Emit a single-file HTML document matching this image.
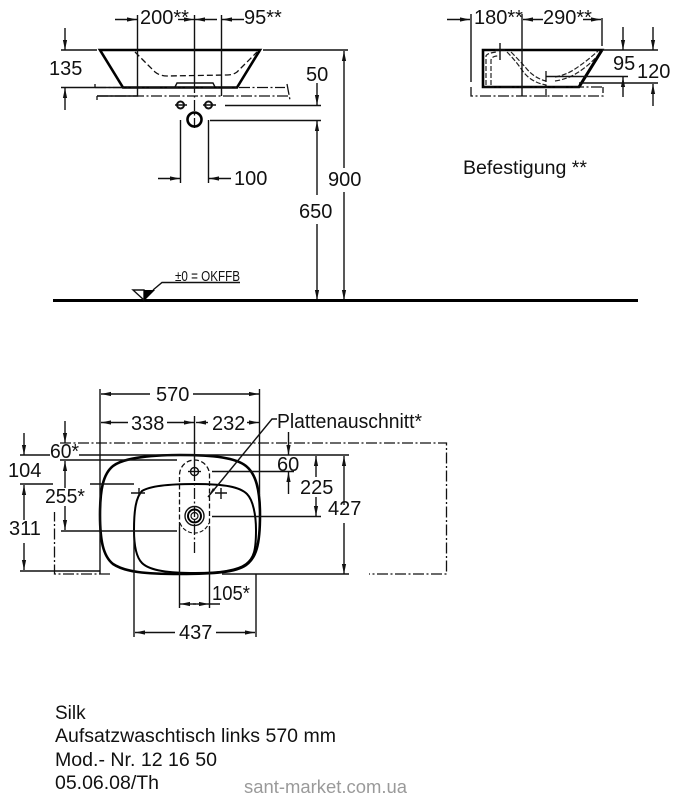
<!DOCTYPE html>
<html>
<head>
<meta charset="utf-8">
<style>
html,body{margin:0;padding:0;background:#fff}
svg{display:block;filter:blur(0.3px)}
text{font-family:"Liberation Sans",sans-serif;font-size:20px;fill:#111}
.s{font-size:19px}
.l{stroke:#111;stroke-width:1.4;fill:none}
.t{stroke:#000;stroke-width:2.6;fill:none}
.dd{stroke:#111;stroke-width:1.3;fill:none;stroke-dasharray:11 2.5 2 2.5}
.d{stroke:#111;stroke-width:1.3;fill:none;stroke-dasharray:6 3}
.a{stroke:#111;stroke-width:1.4;fill:none;marker-end:url(#ar)}
</style>
</head>
<body>
<svg width="678" height="800" viewBox="0 0 678 800" xmlns="http://www.w3.org/2000/svg">
<defs>
<marker id="ar" markerUnits="userSpaceOnUse" markerWidth="12" markerHeight="6" refX="10" refY="3" orient="auto">
<path d="M0,0.9 L10,3 L0,5.1 Z" fill="#111"/>
</marker>
</defs>

<!-- TOP LEFT VIEW -->
<path class="t" d="M100,50 H260 L237,87.5 H123 Z"/>
<path class="d" d="M135,52 L155,72 Q160,76 167,76 L227,75 Q233,75 237,72 L257,52"/>
<path class="l" d="M175,87 L177,83 H213 L215,87"/>
<path class="dd" d="M95,87.5 H285 M97,96 H290 M97,96 V100 M95,84 V88 M287,84 L290,100"/>
<path class="l" d="M61,50 H97 M263,50 H348 M61,87.5 H123"/>
<path class="l" d="M137.5,15 V96 H97 M221.5,15 V96 M194.5,15 V82"/>
<path class="dd" d="M194.5,82 V128"/>
<line class="a" x1="115" y1="19.5" x2="137" y2="19.5"/>
<line class="a" x1="178" y1="19.5" x2="194" y2="19.5"/>
<line class="a" x1="217" y1="19.5" x2="195" y2="19.5"/>
<line class="a" x1="244" y1="19.5" x2="222" y2="19.5"/>
<line class="a" x1="65" y1="28" x2="65" y2="50"/>
<line class="a" x1="65" y1="110" x2="65" y2="88"/>
<text x="140" y="24">200**</text>
<text x="244" y="24">95**</text>
<text x="49" y="75">135</text>
<text x="306" y="81">50</text>

<circle class="l" cx="180.5" cy="105" r="3.5" style="stroke-width:2"/>
<circle class="l" cx="208.5" cy="105" r="3.5" style="stroke-width:2"/>
<path class="l" d="M175,105 H187 M203,105 H216"/>
<circle class="t" cx="194.5" cy="119.5" r="7"/>
<path class="l" d="M225,105.5 H321 M210,120.5 H321 M180.5,120 V183 M208.5,120 V183"/>
<line class="a" x1="158" y1="178.5" x2="180" y2="178.5"/>
<line class="a" x1="231" y1="178.5" x2="209" y2="178.5"/>
<text x="234" y="185">100</text>
<line class="a" x1="317" y1="83" x2="317" y2="105"/>
<line class="a" x1="317" y1="195" x2="317" y2="121"/>
<line class="a" x1="317" y1="224" x2="317" y2="300"/>
<line class="a" x1="344" y1="168" x2="344" y2="51"/>
<line class="a" x1="344" y1="192" x2="344" y2="300"/>
<text x="328" y="186">900</text>
<text x="299" y="218">650</text>

<!-- FLOOR -->
<line x1="53" y1="300.5" x2="638" y2="300.5" stroke="#000" stroke-width="3"/>
<path d="M133,290 H144 V300 Z" fill="#fff" stroke="#111" stroke-width="1.4"/>
<path d="M144,290 H155 L144,301 Z" fill="#000"/>
<path class="l" d="M153,290 L162,282.5 H240"/>
<text x="175" y="281" textLength="65" lengthAdjust="spacingAndGlyphs" style="font-size:15px">±0 = OKFFB</text>

<!-- TOP RIGHT VIEW -->
<path class="t" d="M483,50 H602 L579,87 H483 Z"/>
<path d="M507,52 Q515,60 522,70 Q530,82 546,85 M555,81 Q568,79 577,73 Q590,65 601,52" fill="none" stroke="#222" stroke-width="1.2" stroke-dasharray="5 2"/>
<path d="M511,52 Q519,60 526,68 Q534,78 546,81 M555,77 Q566,75 575,69 Q587,61 598,51" fill="none" stroke="#222" stroke-width="1.2" stroke-dasharray="5 2"/>
<path d="M486,85 V56 Q487,53 497,52 M491,85 V60 Q492,56 498,56" fill="none" stroke="#222" stroke-width="1.2" stroke-dasharray="5 2"/>
<path d="M602,50 L579,87" fill="none" stroke="#000" stroke-width="3"/>
<path class="l" d="M471,14 V82 M522,14 V96 M602,18 V46 M602,50 H658 M579,83 H658 M546,76.5 H628 M500,43 V60 M495,50 H505"/>
<path class="dd" d="M471,87 V96 H603 V87 M546,71 V97 M483,87 H603"/>
<line class="a" x1="447" y1="19.5" x2="470" y2="19.5"/>
<line class="a" x1="543" y1="19.5" x2="523" y2="19.5"/>
<line class="a" x1="583" y1="19.5" x2="601" y2="19.5"/>
<text x="474" y="24">180**</text>
<text x="543" y="24">290**</text>
<line class="a" x1="623" y1="27" x2="623" y2="50"/>
<line class="a" x1="653" y1="27" x2="653" y2="50"/>
<line class="a" x1="623" y1="97" x2="623" y2="77"/>
<line class="a" x1="653" y1="106" x2="653" y2="84"/>
<text x="613" y="70">95</text>
<text x="637" y="78">120</text>
<text class="s" x="463" y="174" textLength="124" lengthAdjust="spacingAndGlyphs">Befestigung **</text>

<!-- PLAN VIEW -->
<path class="t" d="M180,455 C215,455 236,458 246,466 C256,474 260,490 260,515 C260,545 256,558 246,565 C236,572 215,574 180,574 C145,574 125,572 113,564 C103,556 100,540 100,515 C100,490 103,474 113,466 C122,459 145,455 180,455 Z"/>
<path class="t" style="stroke-width:2" d="M195,484 C225,484 240,487 247,494 C253,500 256,515 256,530 C256,550 254,558 246,564 C238,570 220,573 195,573 C170,573 150,571 142,563 C136,557 134,545 134,530 C134,510 136,497 142,491 C150,486 170,484 195,484 Z"/>

<path class="dd" d="M60,443 H446.5 V574 H369 M110,574 H54.5 V512"/>
<path class="l" d="M100,389 V574 M259.5,389 V495 M194.5,416 V470"/>
<path class="dd" d="M194.5,470 V555"/>
<path class="l" d="M20,455 H50 M79,455 H349 M60,460 H177 M61,531 H177 M20,484 H53 M90,484 H134 M20,571 H100 M222,574 H349 M212,471.5 H294 M212,516.5 H321"/>

<line class="a" x1="150" y1="394" x2="101" y2="394"/>
<line class="a" x1="193" y1="394" x2="259" y2="394"/>
<text x="156" y="401">570</text>
<line class="a" x1="128" y1="422.5" x2="101" y2="422.5"/>
<line class="a" x1="167" y1="422.5" x2="194" y2="422.5"/>
<line class="a" x1="208" y1="422.5" x2="196" y2="422.5"/>
<line class="a" x1="247" y1="422.5" x2="259" y2="422.5"/>
<text x="131" y="430">338</text>
<text x="212" y="430">232</text>
<text x="277" y="428" textLength="145" lengthAdjust="spacingAndGlyphs">Plattenauschnitt*</text>
<path class="l" d="M277,419 H272 L208,497"/>
<path d="M208,497 L213,488 L215,490 Z" fill="#111"/>

<!-- left dims -->
<line class="a" x1="65" y1="421" x2="65" y2="443"/>
<line class="a" x1="65" y1="488" x2="65" y2="461"/>
<line class="a" x1="65" y1="506" x2="65" y2="530"/>
<text x="50" y="458" textLength="29" lengthAdjust="spacingAndGlyphs">60*</text>
<text x="45" y="503" textLength="40" lengthAdjust="spacingAndGlyphs">255*</text>
<line class="a" x1="24" y1="433" x2="24" y2="455"/>
<line class="a" x1="24" y1="520" x2="24" y2="485"/>
<line class="a" x1="24" y1="543" x2="24" y2="570"/>
<text x="8" y="477">104</text>
<text x="9" y="535">311</text>

<!-- right dims -->
<line class="a" x1="288.5" y1="432" x2="288.5" y2="455"/>
<line class="a" x1="288.5" y1="494" x2="288.5" y2="472"/>
<line class="a" x1="316" y1="477" x2="316" y2="456"/>
<line class="a" x1="316" y1="497" x2="316" y2="516"/>
<line class="a" x1="344" y1="505" x2="344" y2="456"/>
<line class="a" x1="344" y1="523" x2="344" y2="574"/>
<text x="277" y="471">60</text>
<text x="300" y="494">225</text>
<text x="328" y="515">427</text>

<!-- fittings -->
<path class="d" style="stroke-dasharray:5 2.5" d="M179.5,527 V475 A15,15 0 0 1 209.5,475 V527"/>
<circle class="l" cx="194.5" cy="471.5" r="4"/>
<path class="l" d="M188,471.5 H201"/>
<circle cx="194.5" cy="516" r="9.5" fill="none" stroke="#111" stroke-width="1.4"/>
<circle cx="194.5" cy="516" r="6.5" fill="none" stroke="#000" stroke-width="2"/>
<circle cx="194.5" cy="516" r="3.5" fill="none" stroke="#111" stroke-width="1.2"/>
<path d="M180,523 A15.5,15.5 0 0 0 209,523" fill="none" stroke="#111" stroke-width="1.1" stroke-dasharray="4 2"/>
<path class="l" d="M131,493 H145 M139,488 V496 M215,493 H227 M221,488 V499"/>

<!-- bottom dims -->
<path class="l" d="M179.5,527 V608 M209.5,527 V608 M134,530 V637 M256,574 V637 M209.5,604 H220"/>
<line class="a" x1="196" y1="604" x2="180" y2="604"/>
<line class="a" x1="193" y1="604" x2="209" y2="604"/>
<text x="212" y="600" textLength="38" lengthAdjust="spacingAndGlyphs">105*</text>
<line class="a" x1="175" y1="632.5" x2="135" y2="632.5"/>
<line class="a" x1="216" y1="632.5" x2="255" y2="632.5"/>
<text x="179" y="639">437</text>

<!-- title block -->
<text class="s" x="55" y="719">Silk</text>
<text class="s" x="55" y="742" textLength="281" lengthAdjust="spacingAndGlyphs">Aufsatzwaschtisch links 570 mm</text>
<text class="s" x="55" y="766" textLength="162" lengthAdjust="spacingAndGlyphs">Mod.- Nr. 12 16 50</text>
<text class="s" x="55" y="789" textLength="104" lengthAdjust="spacingAndGlyphs">05.06.08/Th</text>
<text x="244" y="793" textLength="163" lengthAdjust="spacingAndGlyphs" style="font-size:18px;fill:#9a9a9a">sant-market.com.ua</text>
</svg>
</body>
</html>
